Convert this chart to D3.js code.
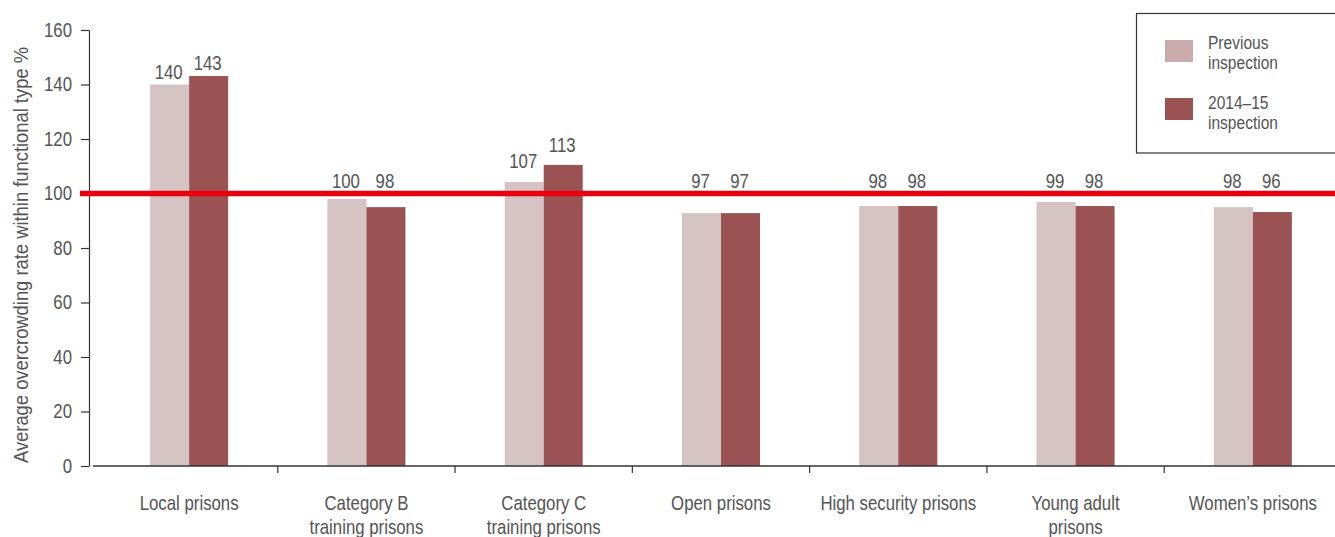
<!DOCTYPE html>
<html>
<head>
<meta charset="utf-8">
<script src="https://cdn.jsdelivr.net/npm/d3@7"></script>
<style>
  html, body { margin: 0; padding: 0; background: #fff; }
  svg { display: block; }
  text { font-family: "Liberation Sans", Arial, sans-serif; fill: #545454; }
</style>
</head>
<body>
<svg id="chart" width="1335" height="537"></svg>
<script>
const categories = [
  ["Local prisons"],
  ["Category B", "training prisons"],
  ["Category C", "training prisons"],
  ["Open prisons"],
  ["High security prisons"],
  ["Young adult", "prisons"],
  ["Women\u2019s prisons"]
];
const seriesNames = ["Previous inspection", "2014\u201315 inspection"];
const legendLines = [["Previous", "inspection"], ["2014\u201315", "inspection"]];
// bar heights as drawn in the reference
const previousValues = [140, 98, 104.2, 92.8, 95.4, 96.9, 95];
const currentValues  = [143.1, 95, 110.5, 92.8, 95.4, 95.4, 93.2];
// data labels printed above the bars
const previousLabels = [140, 100, 107, 97, 98, 99, 98];
const currentLabels  = [143, 98, 113, 97, 98, 98, 96];
const yTicks = [0, 20, 40, 60, 80, 100, 120, 140, 160];
const referenceLine = 100;
const colors = ["#d5c3c3", "#9a5252"];
const legendColors = ["#c9abab", "#9a5252"];

const SX = 0.84;      // condensed look
const FS = "20px";

const svg = d3.select("#chart");
const y = d3.scaleLinear().domain([0, 160]).range([466, 30]);
const x0 = d3.scaleBand().domain(d3.range(categories.length)).range([100.5, 1341.5]).padding(0);
const bw = x0.bandwidth();
const x1 = d3.scaleBand().domain([0, 1]).range([bw / 2 - 39, bw / 2 + 39]).padding(0);

function cText(parent, x, yy, anchor, fs) {
  return parent.append("text")
    .attr("transform", `translate(${x},${yy}) scale(${SX},1)`)
    .attr("text-anchor", anchor || "start")
    .style("font-size", fs || FS);
}

// Y axis
const yAxis = d3.axisLeft(y).tickValues(yTicks).tickSize(8).tickPadding(12).tickSizeOuter(0);
const gy = svg.append("g").attr("transform", "translate(89,0)").call(yAxis);
gy.select(".domain").attr("stroke", "#333").attr("stroke-width", 1.2);
gy.selectAll(".tick line").attr("stroke", "#333").attr("stroke-width", 1.2);
gy.selectAll(".tick text")
  .attr("x", -17 / SX)
  .attr("transform", `scale(${SX},1)`)
  .style("font-size", FS).attr("fill", "#545454")
  .attr("font-family", "Liberation Sans, Arial, sans-serif");

// Y title
svg.append("text")
  .attr("transform", "translate(28,255) rotate(-90)")
  .attr("text-anchor", "middle")
  .attr("textLength", 416)
  .attr("lengthAdjust", "spacingAndGlyphs")
  .style("font-size", FS)
  .text("Average overcrowding rate within functional type %");

// bars
const groups = svg.append("g").selectAll("g")
  .data(categories.map((c, i) => ({ i, vals: [previousValues[i], currentValues[i]], labs: [previousLabels[i], currentLabels[i]] })))
  .join("g")
  .attr("transform", d => `translate(${x0(d.i)},0)`);

groups.selectAll("rect")
  .data(d => d.vals.map((v, k) => ({ v, k })))
  .join("rect")
  .attr("x", d => x1(d.k))
  .attr("width", x1.bandwidth())
  .attr("y", d => y(d.v))
  .attr("height", d => y(0) - y(d.v))
  .attr("fill", d => colors[d.k]);

groups.each(function (d) {
  const g = d3.select(this);
  d.labs.forEach((v, k) => {
    cText(g, x1(k) + x1.bandwidth() / 2 - 1, y(Math.max(v, referenceLine)) - 6, "middle").text(v);
  });
});

// X axis
const xAxisG = svg.append("g").attr("transform", "translate(0,466)");
xAxisG.append("line").attr("x1", 93).attr("x2", 1335).attr("y1", 0).attr("y2", 0)
  .attr("stroke", "#333").attr("stroke-width", 1.5);
xAxisG.selectAll("line.tick")
  .data(d3.range(1, categories.length))
  .join("line")
  .attr("class", "tick")
  .attr("x1", d => x0(d)).attr("x2", d => x0(d))
  .attr("y1", 0).attr("y2", 7)
  .attr("stroke", "#333").attr("stroke-width", 1.2);
categories.forEach((c, i) => {
  c.forEach((ln, j) => {
    cText(xAxisG, x0(i) + bw / 2, 44 + j * 24, "middle").text(ln);
  });
});

// reference line
svg.append("line")
  .attr("x1", 80).attr("x2", 1335)
  .attr("y1", y(referenceLine)).attr("y2", y(referenceLine))
  .attr("stroke", "#e8000f").attr("stroke-width", 5.5);

// legend
const lg = svg.append("g");
lg.append("rect").attr("x", 1136.5).attr("y", 13.5).attr("width", 220).attr("height", 139.5)
  .attr("fill", "#fff").attr("stroke", "#333").attr("stroke-width", 1.2);
seriesNames.forEach((name, k) => {
  lg.append("rect").attr("x", 1165).attr("y", 40 + k * 58).attr("width", 28).attr("height", 22).attr("fill", legendColors[k]);
  legendLines[k].forEach((ln, j) => {
    cText(lg, 1208, 49 + k * 60 + j * 20, "start", "18.5px").text(ln);
  });
});
</script>
</body>
</html>
